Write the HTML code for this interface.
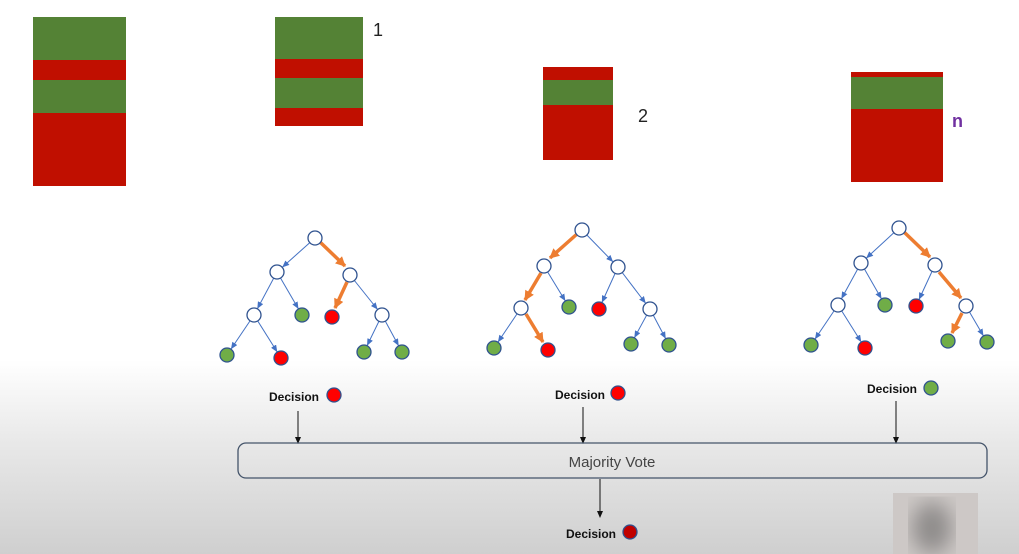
<!DOCTYPE html>
<html><head><style>
html,body{margin:0;padding:0;}
body{width:1019px;height:554px;overflow:hidden;background:linear-gradient(to bottom,#fff 0px,#fff 360px,#e9e9e9 440px,#cfcfcf 554px);font-family:"Liberation Sans",sans-serif;}
</style></head><body>
<svg width="1019" height="554" viewBox="0 0 1019 554" style="position:absolute;left:0;top:0">
<defs>
<marker id="ab" markerWidth="20" markerHeight="8" refX="14" refY="3" orient="auto" markerUnits="userSpaceOnUse"><path d="M0,0 L7,3 L0,6z" fill="#4472c4"/></marker>
<marker id="ao" markerWidth="12" markerHeight="12" refX="9" refY="5" orient="auto" markerUnits="userSpaceOnUse"><path d="M0,0 L10,5 L0,10z" fill="#ed7d31"/></marker>
<marker id="ak" markerWidth="8" markerHeight="8" refX="6" refY="3" orient="auto" markerUnits="userSpaceOnUse"><path d="M0,0 L7,3 L0,6z" fill="#111"/></marker>
<filter id="bl"><feGaussianBlur stdDeviation="10"/></filter>
</defs>
<rect x="33" y="17" width="93" height="43" fill="#548235"/><rect x="33" y="60" width="93" height="20" fill="#c00f00"/><rect x="33" y="80" width="93" height="33" fill="#548235"/><rect x="33" y="113" width="93" height="73" fill="#c00f00"/>
<rect x="275" y="17" width="88" height="42" fill="#548235"/><rect x="275" y="59" width="88" height="19" fill="#c00f00"/><rect x="275" y="78" width="88" height="30" fill="#548235"/><rect x="275" y="108" width="88" height="18" fill="#c00f00"/>
<text x="373" y="36" font-size="18" fill="#222">1</text>
<rect x="543" y="67" width="70" height="13" fill="#c00f00"/><rect x="543" y="80" width="70" height="25" fill="#548235"/><rect x="543" y="105" width="70" height="55" fill="#c00f00"/>
<text x="638" y="122" font-size="18" fill="#222">2</text>
<rect x="851" y="72" width="92" height="5" fill="#c00f00"/><rect x="851" y="77" width="92" height="32" fill="#548235"/><rect x="851" y="109" width="92" height="73" fill="#c00f00"/>
<text x="952" y="127" font-size="18" fill="#7030a0" font-weight="bold">n</text>
<g stroke="#4472c4" fill="none">
<line x1="315" y1="238" x2="277" y2="272" marker-end="url(#ab)"/>
<line x1="277" y1="272" x2="254" y2="315" marker-end="url(#ab)"/>
<line x1="277" y1="272" x2="302" y2="315" marker-end="url(#ab)"/>
<line x1="350" y1="275" x2="382" y2="315" marker-end="url(#ab)"/>
<line x1="254" y1="315" x2="227" y2="355" marker-end="url(#ab)"/>
<line x1="254" y1="315" x2="281" y2="358" marker-end="url(#ab)"/>
<line x1="382" y1="315" x2="364" y2="352" marker-end="url(#ab)"/>
<line x1="382" y1="315" x2="402" y2="352" marker-end="url(#ab)"/>
<line x1="582" y1="230" x2="618" y2="267" marker-end="url(#ab)"/>
<line x1="544" y1="266" x2="569" y2="307" marker-end="url(#ab)"/>
<line x1="618" y1="267" x2="599" y2="309" marker-end="url(#ab)"/>
<line x1="618" y1="267" x2="650" y2="309" marker-end="url(#ab)"/>
<line x1="521" y1="308" x2="494" y2="348" marker-end="url(#ab)"/>
<line x1="650" y1="309" x2="631" y2="344" marker-end="url(#ab)"/>
<line x1="650" y1="309" x2="669" y2="345" marker-end="url(#ab)"/>
<line x1="899" y1="228" x2="861" y2="263" marker-end="url(#ab)"/>
<line x1="861" y1="263" x2="838" y2="305" marker-end="url(#ab)"/>
<line x1="861" y1="263" x2="885" y2="305" marker-end="url(#ab)"/>
<line x1="935" y1="265" x2="916" y2="306" marker-end="url(#ab)"/>
<line x1="838" y1="305" x2="811" y2="345" marker-end="url(#ab)"/>
<line x1="838" y1="305" x2="865" y2="348" marker-end="url(#ab)"/>
<line x1="966" y1="306" x2="987" y2="342" marker-end="url(#ab)"/>
</g>
<g stroke="#ed7d31" stroke-width="3.5" fill="none">
<line x1="320" y1="242" x2="345" y2="266" marker-end="url(#ao)"/>
<line x1="347" y1="282" x2="335" y2="308" marker-end="url(#ao)"/>
<line x1="577" y1="234" x2="550" y2="258" marker-end="url(#ao)"/>
<line x1="541" y1="273" x2="525" y2="300" marker-end="url(#ao)"/>
<line x1="526" y1="314" x2="543" y2="342" marker-end="url(#ao)"/>
<line x1="904" y1="232" x2="930" y2="257" marker-end="url(#ao)"/>
<line x1="939" y1="272" x2="961" y2="298" marker-end="url(#ao)"/>
<line x1="962" y1="313" x2="952" y2="333" marker-end="url(#ao)"/>
</g>
<g stroke="#2f528f" stroke-width="1.3">
<g fill="#fff">
<circle cx="315" cy="238" r="7"/><circle cx="277" cy="272" r="7"/><circle cx="350" cy="275" r="7"/><circle cx="254" cy="315" r="7"/><circle cx="382" cy="315" r="7"/>
<circle cx="582" cy="230" r="7"/><circle cx="544" cy="266" r="7"/><circle cx="618" cy="267" r="7"/><circle cx="521" cy="308" r="7"/><circle cx="650" cy="309" r="7"/>
<circle cx="899" cy="228" r="7"/><circle cx="861" cy="263" r="7"/><circle cx="935" cy="265" r="7"/><circle cx="838" cy="305" r="7"/><circle cx="966" cy="306" r="7"/>
</g>
<g fill="#70ad47">
<circle cx="302" cy="315" r="7"/><circle cx="227" cy="355" r="7"/><circle cx="364" cy="352" r="7"/><circle cx="402" cy="352" r="7"/>
<circle cx="569" cy="307" r="7"/><circle cx="494" cy="348" r="7"/><circle cx="631" cy="344" r="7"/><circle cx="669" cy="345" r="7"/>
<circle cx="885" cy="305" r="7"/><circle cx="811" cy="345" r="7"/><circle cx="948" cy="341" r="7"/><circle cx="987" cy="342" r="7"/>
<circle cx="931" cy="388" r="7"/>
</g>
<g fill="#ff0000">
<circle cx="332" cy="317" r="7"/><circle cx="281" cy="358" r="7"/>
<circle cx="599" cy="309" r="7"/><circle cx="548" cy="350" r="7"/>
<circle cx="916" cy="306" r="7"/><circle cx="865" cy="348" r="7"/>
<circle cx="334" cy="395" r="7"/><circle cx="618" cy="393" r="7"/>
</g>
<circle cx="630" cy="532" r="7" fill="#c00000"/>
</g>
<g font-size="12" font-weight="bold" fill="#111">
<text x="269" y="401">Decision</text>
<text x="555" y="399">Decision</text>
<text x="867" y="393">Decision</text>
<text x="566" y="538">Decision</text>
</g>
<g stroke="#111" stroke-width="1">
<line x1="298" y1="411" x2="298" y2="443" marker-end="url(#ak)"/>
<line x1="583" y1="407" x2="583" y2="443" marker-end="url(#ak)"/>
<line x1="896" y1="401" x2="896" y2="443" marker-end="url(#ak)"/>
<line x1="600" y1="479" x2="600" y2="517" marker-end="url(#ak)"/>
</g>
<rect x="238" y="443" width="749" height="35" rx="8" fill="none" stroke="#44546a" stroke-width="1.3"/>
<text x="612" y="467" font-size="15" fill="#444" text-anchor="middle">Majority Vote</text>
<rect x="893" y="493" width="85" height="61" fill="#cdc8c6"/>
<ellipse cx="932" cy="528" rx="20" ry="26" fill="#8f8c8b" filter="url(#bl)"/>
</svg>
</body></html>
